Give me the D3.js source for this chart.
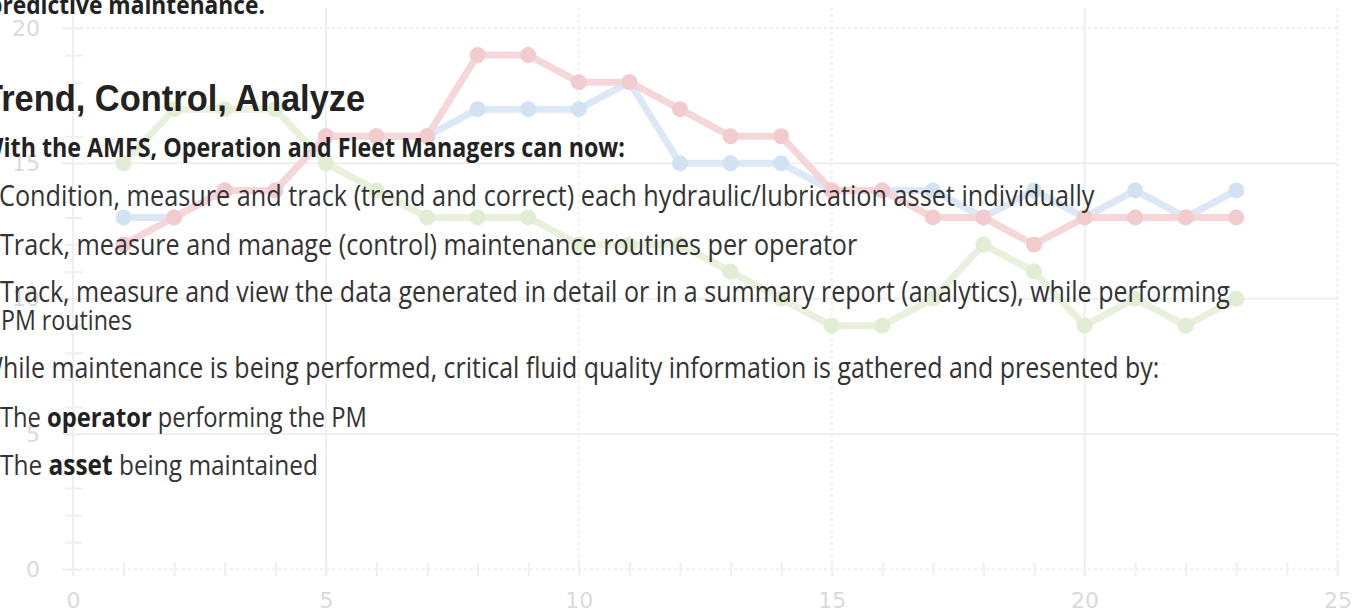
<!DOCTYPE html>
<html><head><meta charset="utf-8">
<script src="https://cdn.jsdelivr.net/npm/d3@7"></script>
<style>html,body{margin:0;padding:0;background:#fff;overflow:hidden}</style>
</head><body><svg id="c" width="1354" height="610"></svg>
<script>
// ---- data ----
const xValues     = [1,2,3,4,5,6,7,8,9,10,11,12,13,14,15,16,17,18,19,20,21,22,23];
const blueValues  = [13,13,14,14,16,16,16,17,17,17,18,15,15,15,14,14,14,13,14,13,14,13,14];
const redValues   = [12,13,14,14,16,16,16,19,19,18,18,17,16,16,14,14,13,13,12,13,13,13,13];
const greenValues = [15,17,17,17,15,14,13,13,13,12,12,12,11,10,9,9,10,12,11,9,10,9,10];
const xTickLabels = [0,5,10,15,20,25];
const yTickLabels = [0,5,10,15,20];
const xMinorTicks = [0,1,2,3,4,5,6,7,8,9,10,11,12,13,14,15,16,17,18,19,20,21,22,23,24,25];
const yMinorTicks = [0,1,2,3,4,5,6,7,8,9,10,11,12,13,14,15,16,17,18,19,20];

// ---- text content ----
const bodyFont = "'Open Sans', 'DejaVu Sans', sans-serif";
const titleFont = "'Liberation Sans', Arial, sans-serif";
const textLines = [
  {parts:[{t:"predictive maintenance.", b:true}], x:-12, y:14, right:265, font:bodyFont, vs:1.12},
  {parts:[{t:"Trend, Control, Analyze", b:true}], x:-18, y:111, right:365, font:titleFont, vs:1.05},
  {parts:[{t:"With the AMFS, Operation and Fleet Managers can now:", b:true}], x:-19, y:157, right:625, font:bodyFont, vs:1.12},
  {parts:[{t:"Condition, measure and track (trend and correct) each hydraulic/lubrication asset individually"}], x:-1, y:206, right:1095, font:bodyFont, vs:1.15},
  {parts:[{t:"Track, measure and manage (control) maintenance routines per operator"}], x:0, y:255, right:858, font:bodyFont, vs:1.15},
  {parts:[{t:"Track, measure and view the data generated in detail or in a summary report (analytics), while performing"}], x:0, y:302, right:1230, font:bodyFont, vs:1.15},
  {parts:[{t:"PM routines"}], x:1, y:330, right:132, font:bodyFont, vs:1.15},
  {parts:[{t:"While maintenance is being performed, critical fluid quality information is gathered and presented by:"}], x:-20, y:378, right:1160, font:bodyFont, vs:1.15},
  {parts:[{t:"The "},{t:"operator", b:true},{t:" performing the PM"}], x:0, y:427, right:367, font:bodyFont, vs:1.15},
  {parts:[{t:"The "},{t:"asset", b:true},{t:" being maintained"}], x:0, y:475, right:318, font:bodyFont, vs:1.15}
];

const svg = d3.select("#c");
const x = d3.scaleLinear().domain([0,25]).range([73,1337.5]);
const y = d3.scaleLinear().domain([0,20]).range([569.3,28]);
const gridCol = "#efefef";

// grid
const g = svg.append("g");
g.selectAll(".hg").data(yTickLabels.slice(1)).join("line")
  .attr("x1",62).attr("x2",x(25)).attr("y1",d=>y(d)).attr("y2",d=>y(d))
  .attr("stroke",gridCol).attr("stroke-width",2)
  .attr("stroke-dasharray",d=>d===20?"3,3":null);
g.selectAll(".vg").data(xTickLabels).join("line")
  .attr("x1",d=>x(d)).attr("x2",d=>x(d)).attr("y1",8).attr("y2",576)
  .attr("stroke",gridCol).attr("stroke-width",2)
  .attr("stroke-dasharray",d=>(d===25||d===10||d===15)?"3,3":null);

// x axis (minor ticks crossing the baseline)
const xAxisG = svg.append("g").attr("transform",`translate(0,${y(0)-7})`)
  .call(d3.axisBottom(x).tickValues(xMinorTicks).tickSize(14).tickFormat(""));
xAxisG.select(".domain").remove();
xAxisG.selectAll("line").attr("stroke",gridCol).attr("stroke-width",2);
svg.append("line").attr("x1",62).attr("x2",x(25)).attr("y1",y(0)).attr("y2",y(0))
  .attr("stroke",gridCol).attr("stroke-width",2).attr("stroke-dasharray","3,3");

// y axis minor ticks
const yAxisG = svg.append("g").attr("transform",`translate(${x(0)+9},0)`)
  .call(d3.axisLeft(y).tickValues(yMinorTicks).tickSize(17).tickFormat(""));
yAxisG.select(".domain").remove();
yAxisG.selectAll("line").attr("stroke",gridCol).attr("stroke-width",2);

// tick labels
const xl = svg.append("g").attr("transform",`translate(0,${y(0)})`)
  .call(d3.axisBottom(x).tickValues(xTickLabels).tickSize(0).tickPadding(23).tickFormat(d=>String(d)));
xl.select(".domain").remove();
xl.selectAll("text").attr("fill","#dadada").style("font-family","'DejaVu Sans', sans-serif").style("font-size","22px");
const yl = svg.append("g").attr("transform",`translate(${x(0)},0)`)
  .call(d3.axisLeft(y).tickValues(yTickLabels).tickSize(0).tickPadding(33).tickFormat(d=>String(d)));
yl.select(".domain").remove();
yl.selectAll("text").attr("fill","#dadada").style("font-family","'DejaVu Sans', sans-serif").style("font-size","22px");

// series
const series = [
  {name:"green", values:greenValues, line:"#e9f1dc", mark:"#e3edd3"},
  {name:"blue",  values:blueValues,  line:"#dce8f5", mark:"#d3e2f2"},
  {name:"red",   values:redValues,   line:"#f5d6d9", mark:"#f2cbcf"}
];
const lineGen = d3.line().x((d,i)=>x(xValues[i])).y(d=>y(d));
series.forEach(s=>{
  svg.append("path").datum(s.values).attr("d",lineGen)
    .attr("fill","none").attr("stroke",s.line).attr("stroke-width",7)
    .attr("stroke-linejoin","round");
  svg.append("g").selectAll("circle").data(s.values).join("circle")
    .attr("cx",(d,i)=>x(xValues[i])).attr("cy",d=>y(d)).attr("r",8)
    .attr("fill",s.mark);
});

// text overlay
const tg = svg.append("g");
textLines.forEach(L=>{
  const t = tg.append("text").attr("x",L.x).attr("y",0)
    .attr("transform",`translate(0,${L.y}) scale(1,${L.vs})`)
    .style("font-family",L.font).style("font-size","24px")
    .attr("fill","#333");
  L.parts.forEach(p=>{
    t.append("tspan").text(p.t)
      .style("font-weight",p.b?700:400)
      .attr("fill",p.b?"#222":"#333");
  });
  const w = t.node().getBBox().width;
  const fs = 24*(L.right-L.x)/w;
  t.style("font-size",fs.toFixed(2)+"px");
});
</script></body></html>
